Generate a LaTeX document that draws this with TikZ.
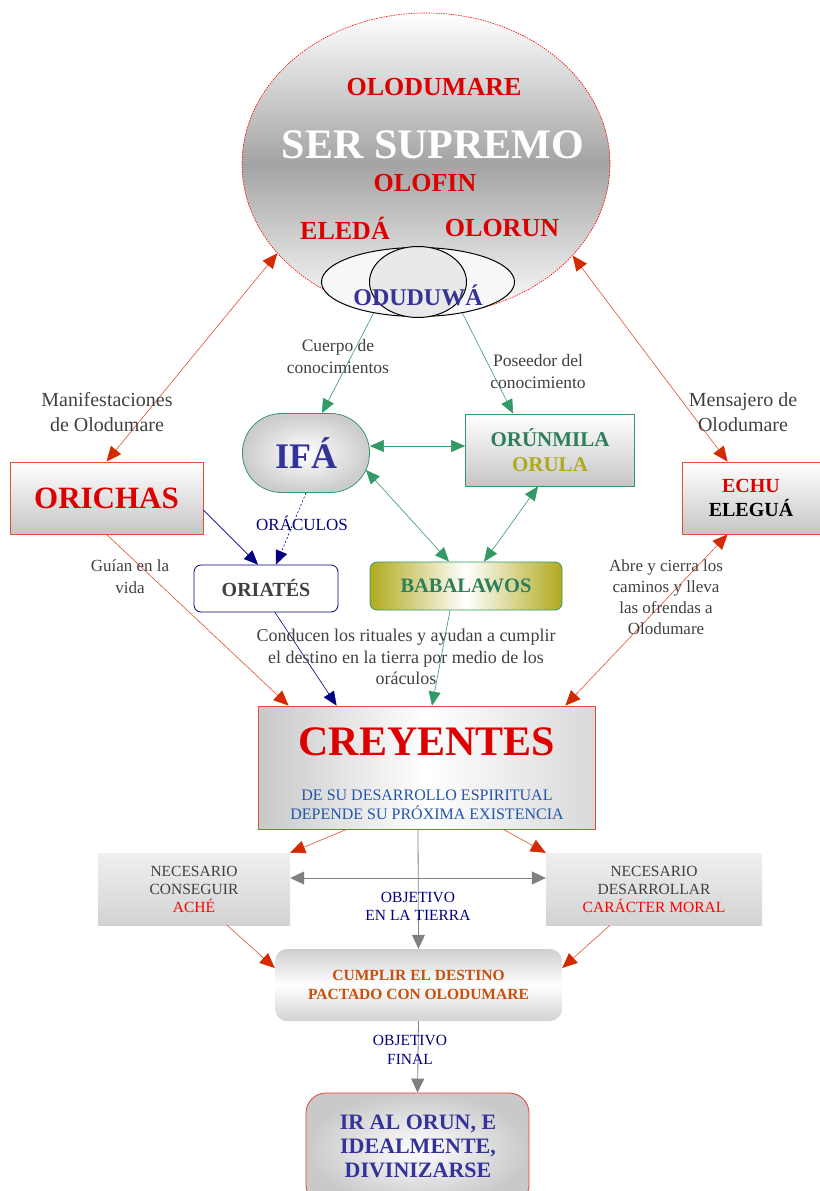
\documentclass[tikz,border=0pt]{standalone}
\usepackage{fontspec}
\setmainfont{Liberation Serif}
\usetikzlibrary{shapes.geometric,arrows.meta,calc}
\definecolor{tred}{HTML}{DD0000}
\definecolor{lred}{HTML}{E05030}
\definecolor{ared}{HTML}{D42A00}
\definecolor{navy}{HTML}{000080}
\definecolor{lgreen}{HTML}{339966}
\definecolor{tgreen}{HTML}{2E7D5B}
\definecolor{olive}{HTML}{B0AA1E}
\definecolor{tblue}{HTML}{333399}
\definecolor{sblue}{HTML}{2255AA}
\definecolor{tgray}{HTML}{404040}
\definecolor{torange}{HTML}{C8500A}
\definecolor{lgray}{HTML}{808080}
\definecolor{fred}{HTML}{EE3A3A}
\begin{document}
\begin{tikzpicture}[x=1pt,y=-1pt,
  rline/.style={draw=lred, line width=0.6pt, -{Triangle[length=15pt,width=13pt,color=ared]}},
  rdbl/.style={draw=lred, line width=0.6pt, {Triangle[length=15pt,width=13pt,color=ared]}-{Triangle[length=15pt,width=13pt,color=ared]}},
  gline/.style={draw=lgreen, line width=0.6pt, -{Triangle[length=14pt,width=12pt]}},
  gdbl/.style={draw=lgreen, line width=0.6pt, {Triangle[length=14pt,width=12pt]}-{Triangle[length=14pt,width=12pt]}},
  nline/.style={draw=navy, line width=0.6pt, -{Triangle[length=14pt,width=12pt]}},
  grline/.style={draw=lgray, line width=0.8pt, -{Triangle[length=14pt,width=13pt]}},
  grdbl/.style={draw=lgray, line width=0.8pt, {Triangle[length=14pt,width=13pt]}-{Triangle[length=14pt,width=13pt]}},
  lab/.style={text=tgray, align=center, inner sep=0pt},
  boxt/.style={inner sep=0pt, align=center},
]
\useasboundingbox (0,0) rectangle (819,1191);

% Supreme being ellipse
\node[ellipse, draw=red, line width=0.6pt, dash pattern=on 1.5pt off 1pt,
      top color=white, bottom color=white, middle color=gray!72,
      minimum width=368pt, minimum height=302pt, inner sep=0pt] (sup) at (426,164) {};
\node[boxt, text=tred, font=\fontsize{26}{30}\selectfont\bfseries] (olod) at (434,87) {OLODUMARE};
\node[boxt, text=white, font=\fontsize{42}{48}\selectfont\bfseries] (ser) at (433,145) {SER SUPREMO};
\node[boxt, text=tred, font=\fontsize{26}{30}\selectfont\bfseries] (olof) at (425,183) {OLOFIN};
\node[boxt, text=tred, font=\fontsize{26}{30}\selectfont\bfseries] (eled) at (345,228) {ELEDÁ};
\node[boxt, text=tred, font=\fontsize{26}{30}\selectfont\bfseries] (olor) at (502,228) {OLORUN};

\node[ellipse, draw=black, line width=1pt, fill=gray!6,
      minimum width=193pt, minimum height=69pt, inner sep=0pt] (odu) at (418,282) {};
\node[ellipse, draw=black, line width=1pt, fill=gray!17,
      minimum width=97pt, minimum height=71pt, inner sep=0pt] (oduc) at (418,282) {};
\node[boxt, text=tblue, font=\fontsize{24}{28}\selectfont\bfseries] (odut) at (418,295) {ODUDUWÁ};

% Middle nodes
\node[draw=lgreen, line width=0.8pt, rounded corners=39pt, inner color=white, outer color=gray!40,
      minimum width=127pt, minimum height=79pt, inner sep=0pt,
      text=tblue, font=\fontsize{36}{40}\selectfont\bfseries] (ifa) at (306,453) {IFÁ};
\node[draw=lgreen, line width=0.8pt, top color=white, bottom color=gray!45,
      minimum width=169pt, minimum height=72pt, inner sep=0pt, align=center,
      font=\fontsize{21}{25}\selectfont\bfseries] (orun) at (550,450)
      {\textcolor{tgreen}{ORÚNMILA}\\\textcolor{olive}{ORULA}};
\node[draw=lred, line width=0.8pt, top color=white, bottom color=gray!45,
      minimum width=193pt, minimum height=72pt, inner sep=0pt,
      text=tred, font=\fontsize{31}{35}\selectfont\bfseries] (ori) at (106.5,498) {ORICHAS};
\node[draw=lred, line width=0.8pt, top color=white, bottom color=gray!45,
      minimum width=138pt, minimum height=72pt, inner sep=0pt, align=center,
      font=\fontsize{20}{24}\selectfont\bfseries] (echu) at (751,498)
      {\textcolor{tred}{ECHU}\\ELEGUÁ};
\node[draw=navy, line width=0.8pt, rounded corners=7pt, fill=white,
      minimum width=144pt, minimum height=47pt, inner sep=0pt,
      text=tgray, font=\fontsize{20}{24}\selectfont\bfseries] (oria) at (266,588.5) {ORIATÉS};
\node[draw=lgreen, line width=0.8pt, rounded corners=7pt, left color=olive, right color=olive, middle color=white,
      minimum width=192pt, minimum height=48pt, inner sep=0pt,
      text=tgreen, font=\fontsize{20.5}{24}\selectfont\bfseries] (baba) at (466,586) {BABALAWOS};

% Creyentes
\node[draw=lred, line width=0.8pt, left color=gray!43, right color=gray!30, middle color=white,
      minimum width=337pt, minimum height=123pt, inner sep=0pt] (crey) at (426.5,767.5) {};
\node[boxt, text=tred, font=\fontsize{42}{48}\selectfont\bfseries] (creyt) at (427,742) {CREYENTES};
\node[boxt, text=sblue, font=\fontsize{16}{19}\selectfont] (creys) at (427,805)
      {DE SU DESARROLLO ESPIRITUAL\\DEPENDE SU PRÓXIMA EXISTENCIA};

% Lower boxes
\node[top color=gray!12, bottom color=gray!35, minimum width=192pt, minimum height=72pt, inner sep=0pt,
      align=center, text=tgray, font=\fontsize{15.5}{18}\selectfont] (ache) at (194,889)
      {NECESARIO\\CONSEGUIR\\\textcolor{red}{ACHÉ}};
\node[top color=gray!12, bottom color=gray!35, minimum width=216pt, minimum height=72pt, inner sep=0pt,
      align=center, text=tgray, font=\fontsize{15.5}{18}\selectfont] (moral) at (654,889)
      {NECESARIO\\DESARROLLAR\\\textcolor{red}{CARÁCTER MORAL}};
\node[rounded corners=12pt, top color=gray!38, bottom color=gray!35, middle color=white,
      minimum width=287pt, minimum height=72pt, inner sep=0pt, align=center,
      text=torange, font=\fontsize{15.5}{19}\selectfont\bfseries] (cump) at (418.5,985)
      {CUMPLIR EL DESTINO\\PACTADO CON OLODUMARE};
\node[draw=fred, line width=0.8pt, rounded corners=20pt, inner color=white, outer color=gray!42,
      minimum width=223pt, minimum height=112pt, inner sep=0pt] (final) at (417.5,1149) {};
\node[boxt, text=tblue, font=\fontsize{22}{24}\selectfont\bfseries] (finalt) at (418,1146)
      {IR AL ORUN, E\\IDEALMENTE,\\DIVINIZARSE};

% Connectors
\draw[rdbl] (sup.211) -- (ori.north);
\draw[rdbl] (sup.328) -- ($(echu.north west)+(46,0)$);
\draw[gline] (odu.215) -- ($(ifa.north)+(16,0)$);
\draw[gline] (odu.325) -- ($(orun.north west)+(48,0)$);
\draw[gdbl] ($(ifa.east)+(0,-7)$) -- ($(orun.west)+(0,-4)$);
\draw[gdbl] ($(ifa.east)+(-4,17)$) -- ($(baba.north)+(-17,0)$);
\draw[gdbl] ($(orun.south)+(-12,0)$) -- ($(baba.north)+(18,0)$);
\draw[draw=navy, line width=0.6pt, dash pattern=on 2pt off 2pt, -{Triangle[length=14pt,width=12pt]}]
      (ifa.south) -- ($(oria.north)+(10,0)$);
\draw[nline] ($(ori.east)+(0,12)$) -- ($(oria.north)+(-8,0)$);
\draw[rline] (ori.south) -- ($(crey.north west)+(31,0)$);
\draw[nline] ($(oria.south)+(9,0)$) -- ($(crey.north west)+(79,0)$);
\draw[gline] ($(baba.south)+(-16,0)$) -- ($(crey.north)+(5.5,0)$);
\draw[rdbl] ($(echu.south west)+(46,0)$) -- ($(crey.north east)+(-30,0)$);
\draw[rline] ($(crey.south west)+(89,0)$) -- (ache.north east);
\draw[rline] ($(crey.south east)+(-92,0)$) -- (moral.north west);
\draw[grdbl] ($(ache.east)+(0,-11)$) -- ($(moral.west)+(0,-11)$);
\draw[grline] ($(crey.south)+(-8.5,0)$) -- (cump.north);
\draw[rline] ($(ache.south)+(33,0)$) -- ($(cump.west)+(0,-17)$);
\draw[rline] ($(moral.south)+(-44,0)$) -- ($(cump.east)+(0,-17)$);
\draw[grline] (cump.south) -- (final.north);

% Labels
\node[lab, font=\fontsize{20}{25}\selectfont] (lman) at (107,412) {Manifestaciones\\de Olodumare};
\node[lab, font=\fontsize{20}{25}\selectfont] (lmen) at (743,412) {Mensajero de\\Olodumare};
\node[lab, font=\fontsize{17.5}{22}\selectfont] (lcue) at (338,357) {Cuerpo de\\conocimientos};
\node[lab, font=\fontsize{17.5}{22}\selectfont] (lpos) at (538,372) {Poseedor del\\conocimiento};
\node[lab, text=navy, font=\fontsize{17}{20}\selectfont] (lora) at (302,523) {ORÁCULOS};
\node[lab, font=\fontsize{17}{22}\selectfont] (lgui) at (130,577) {Guían en la\\vida};
\node[lab, font=\fontsize{17}{21}\selectfont] (labr) at (666,597) {Abre y cierra los\\caminos y lleva\\las ofrendas a\\Olodumare};
\node[lab, font=\fontsize{18}{21.5}\selectfont] (lcon) at (406,657) {Conducen los rituales y ayudan a cumplir\\el destino en la tierra por medio de los\\oráculos};
\node[lab, text=navy, font=\fontsize{15.5}{18}\selectfont] (lobt) at (418,906) {OBJETIVO\\EN LA TIERRA};
\node[lab, text=navy, font=\fontsize{15.5}{19}\selectfont] (lobf) at (410,1050) {OBJETIVO\\FINAL};
\end{tikzpicture}
\end{document}
